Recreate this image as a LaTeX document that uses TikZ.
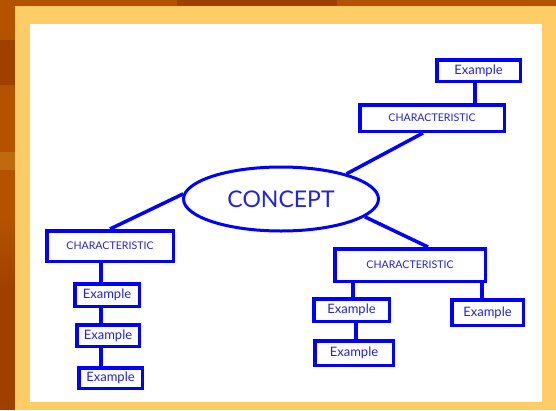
\documentclass[tikz,border=0pt]{standalone}
\usepackage{fontspec}
\setmainfont{Lato}
\usetikzlibrary{shapes.geometric}
\definecolor{bgorange}{HTML}{B35300}
\definecolor{bgdark}{HTML}{A04000}
\definecolor{bglight}{HTML}{BD6A10}
\definecolor{frameyellow}{HTML}{FFCC66}
\definecolor{cblue}{HTML}{0000FF}
\definecolor{tblue}{HTML}{2222E6}
\tikzset{
  box/.style={draw=cblue, line width=3.5pt, fill=white, rectangle, inner sep=0pt,
    text=tblue, font=\fontsize{13}{14}\selectfont},
  charbox/.style={box, font=\fontsize{10.6}{12}\selectfont},
  conn/.style={draw=cblue, line width=3.5pt},
  concept/.style={draw=cblue, line width=3pt, fill=white, ellipse, inner sep=0pt,
    text=tblue, font=\fontsize{23}{25}\selectfont}
}
\begin{document}
\begin{tikzpicture}[x=1pt,y=-1pt]
% background
\fill[bgorange] (0,0) rectangle (556,410);
\fill[bgdark] (177,0) rectangle (337,6);
\fill[bgdark] (0,40) rectangle (15,85);
\fill[bglight] (0,152) rectangle (15,170);
\shade[top color=bgorange, bottom color=bgdark] (0,220) rectangle (15,290);
\fill[bgdark] (0,290) rectangle (15,410);
\fill[frameyellow] (15,6) rectangle (556,410);
\fill[white] (30,24) rectangle (542,402);
\useasboundingbox (0,0) rectangle (556,410);

% nodes
\node[concept, minimum width=195pt, minimum height=64pt] (concept) at (281,199) {CONCEPT};

\node[box, minimum width=83.5pt, minimum height=21.5pt] (extop) at (478.5,70.5) {Example};
\node[charbox, minimum width=144.5pt, minimum height=26.5pt] (chtop) at (432,118) {CHARACTERISTIC};

\node[charbox, minimum width=126.5pt, minimum height=30.5pt] (chleft) at (110,246) {CHARACTERISTIC};
\node[box, minimum width=64.5pt, minimum height=22.5pt] (exlA) at (107,295) {Example};
\node[box, minimum width=62.5pt, minimum height=21.5pt] (exlB) at (108,335.5) {Example};
\node[box, minimum width=63.5pt, minimum height=20.5pt] (exlC) at (110.5,378) {Example};

\node[charbox, minimum width=150.5pt, minimum height=32.5pt] (chright) at (410,265) {CHARACTERISTIC};
\node[box, minimum width=75.5pt, minimum height=22.5pt] (exrA) at (351.5,310) {Example};
\node[box, minimum width=78.5pt, minimum height=24.5pt] (exrB) at (354,353) {Example};
\node[box, minimum width=71.5pt, minimum height=25.5pt] (exrC) at (487.5,312.5) {Example};

% connectors
\draw[conn] (concept.21) -- ([xshift=-9pt]chtop.south);
\draw[conn] (concept.177) -- (chleft.north);
\draw[conn] (concept.-12) -- ([xshift=18pt]chright.north);

\draw[conn] ([xshift=-3.5pt]extop.south) -- ([xshift=-3.5pt]extop.south |- chtop.north);

\draw[conn] ([xshift=-9pt]chleft.south) -- ([xshift=-9pt]chleft.south |- exlA.north);
\draw[conn] ([xshift=-9pt]chleft.south |- exlA.south) -- ([xshift=-9pt]chleft.south |- exlB.north);
\draw[conn] ([xshift=-9pt]chleft.south |- exlB.south) -- ([xshift=-9pt]chleft.south |- exlC.north);

\draw[conn] ([xshift=1.5pt]exrA.north |- chright.south) -- ([xshift=1.5pt]exrA.north);
\draw[conn] ([xshift=4.5pt]exrA.south) -- ([xshift=4.5pt]exrA.south |- exrB.north);
\draw[conn] ([xshift=-5.5pt]exrC.north |- chright.south) -- ([xshift=-5.5pt]exrC.north);
\end{tikzpicture}
\end{document}
